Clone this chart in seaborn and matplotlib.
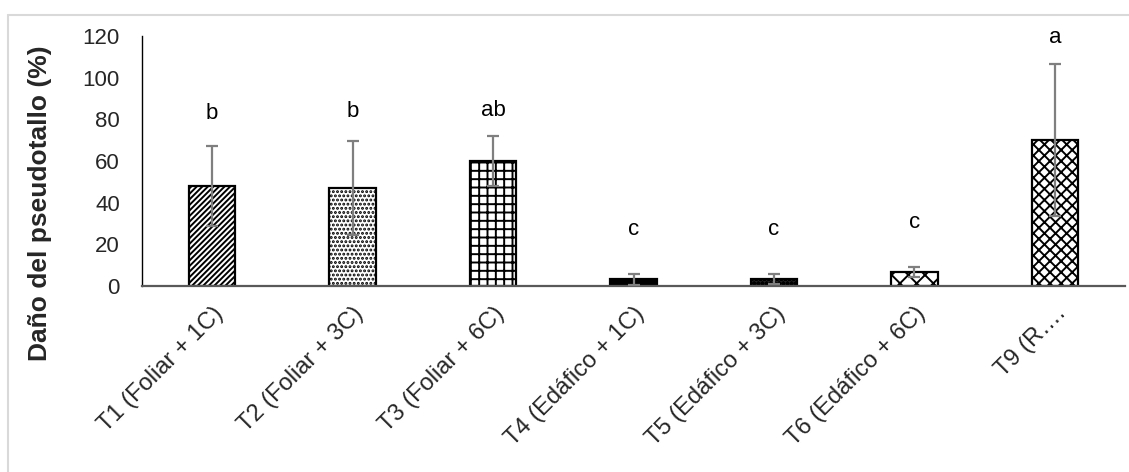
import matplotlib
matplotlib.use("Agg")
import matplotlib.pyplot as plt
import seaborn as sns
import pandas as pd
from matplotlib.lines import Line2D

categories = ["T1 (Foliar + 1C)", "T2 (Foliar + 3C)", "T3 (Foliar + 6C)",
              "T4 (Edáfico + 1C)", "T5 (Edáfico + 3C)", "T6 (Edáfico + 6C)", "T9 (R…."]
values = [48.0, 47.2, 60.2, 3.2, 3.5, 6.7, 70.1]
errors = [19.0, 22.6, 12.0, 2.6, 2.5, 2.3, 36.3]
letters = ["b", "b", "ab", "c", "c", "c", "a"]
letter_y = [83.0, 83.7, 84.2, 27.0, 27.0, 30.7, 119.5]
yticks = [0, 20, 40, 60, 80, 100, 120]

sns.set_theme(style="white")
plt.rcParams['font.family'] = ['Liberation Sans', 'DejaVu Sans']
plt.rcParams['hatch.linewidth'] = 1.4

fig = plt.figure(figsize=(11.29, 4.72), dpi=100)
ax = fig.add_axes([142/1129, 1-286/472, (1125-142)/1129, 250/472])

df = pd.DataFrame({"cat": categories, "val": values})
sns.barplot(data=df, x="cat", y="val", color="white", edgecolor="black",
            linewidth=1.6, width=0.33, saturation=1, ax=ax, errorbar=None)

hatches = ["//////", "....", "++", None, "oooo", "xx", "xxx"]
faces = ["white", "white", "white", "black", "#222222", "white", "white"]
for p, h, fc in zip(ax.patches, hatches, faces):
    p.set_facecolor(fc)
    if h:
        p.set_hatch(h)

xpos = list(range(len(categories)))
ax.errorbar(xpos, values, yerr=errors, fmt="none", ecolor="#7f7f7f",
            elinewidth=1.6, capsize=4, capthick=1.6, zorder=5)

for x, t, y in zip(xpos, letters, letter_y):
    ax.text(x, y, t, ha="center", va="center", fontsize=16, color="black")

ax.set_ylim(0, 120)
ax.set_xlim(-0.5, len(categories) - 0.5)
ax.set_yticks(yticks)
ax.set_yticklabels([str(v) for v in yticks], fontsize=16)
ax.tick_params(axis="y", length=0, pad=16)
ax.tick_params(axis="x", length=0, pad=12)
ax.set_xticks(xpos)
ax.set_xticklabels(categories, rotation=45, ha="right", rotation_mode="anchor", fontsize=17)
ax.set_xlabel("")
ax.set_ylabel("Daño del pseudotallo (%)", fontsize=19, fontweight="bold")
ax.yaxis.set_label_coords(-0.092, 0.33)

for s in ["top", "right"]:
    ax.spines[s].set_visible(False)
ax.spines["left"].set_color("black")
ax.spines["left"].set_linewidth(1.0)
ax.spines["bottom"].set_color("#595959")
ax.spines["bottom"].set_linewidth(1.6)

# chart-area border (light gray)
fig.add_artist(Line2D([8/1129, 1.0], [1-15/472, 1-15/472], color="#d9d9d9", lw=1.5))
fig.add_artist(Line2D([8/1129, 8/1129], [0, 1-15/472], color="#d9d9d9", lw=1.5))

fig.savefig("out.png", dpi=100)
